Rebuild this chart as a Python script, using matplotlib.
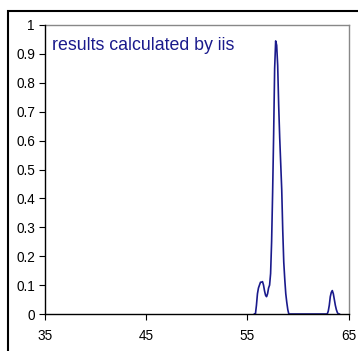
import matplotlib
matplotlib.use('Agg')
import matplotlib.pyplot as plt
from matplotlib.patches import Rectangle

plt.rcParams['font.family'] = ['Liberation Sans', 'DejaVu Sans']

# spectrum (x in degrees, y normalised intensity)
x_vals = [55.7, 55.8, 55.9, 56.0, 56.1, 56.2, 56.3, 56.4, 56.5, 56.6, 56.7,
          56.8, 56.9, 57.0, 57.1, 57.2, 57.3, 57.4, 57.5, 57.6, 57.7, 57.8,
          57.9, 58.0, 58.1, 58.2, 58.3, 58.4, 58.5, 58.6, 58.7, 58.8, 58.9,
          59.0, 59.1, 62.9, 63.0, 63.1, 63.2, 63.3, 63.4, 63.5, 63.6, 63.7,
          63.8, 63.9, 64.0, 64.1]
y_vals = [0.0, 0.0, 0.03, 0.07, 0.09, 0.10, 0.11, 0.11, 0.112, 0.10, 0.08,
          0.065, 0.06, 0.07, 0.09, 0.10, 0.14, 0.25, 0.42, 0.62, 0.85, 0.945,
          0.93, 0.86, 0.72, 0.61, 0.52, 0.43, 0.29, 0.18, 0.12, 0.07, 0.04,
          0.015, 0.0, 0.0, 0.01, 0.03, 0.06, 0.075, 0.081, 0.07, 0.05, 0.03,
          0.015, 0.005, 0.0, 0.0]

x_ticks = [35, 45, 55, 65]
y_ticks = [0, 0.1, 0.2, 0.3, 0.4, 0.5, 0.6, 0.7, 0.8, 0.9, 1]
y_labels = ['0', '0.1', '0.2', '0.3', '0.4', '0.5', '0.6', '0.7', '0.8', '0.9', '1']

navy = '#1a1a8c'

fig = plt.figure(figsize=(3.58, 3.51), dpi=100)
ax = fig.add_axes([45/358, 37/351, 303.5/358, 289/351])

ax.plot(x_vals, y_vals, color=navy, lw=1.2, zorder=3)
ax.set_xlim(35, 65)
ax.set_ylim(0, 1)
ax.set_xticks(x_ticks)
ax.set_xticklabels([str(t) for t in x_ticks])
ax.set_yticks(y_ticks)
ax.set_yticklabels(y_labels)
ax.tick_params(direction='out', length=4, width=0.8, labelsize=9.8, pad=3.2, colors='black')
ax.tick_params(axis='x', pad=7)

for s in ['top', 'right']:
    ax.spines[s].set_color('#888888')
    ax.spines[s].set_linewidth(1.0)
for s in ['left', 'bottom']:
    ax.spines[s].set_color('black')
    ax.spines[s].set_linewidth(1.0)
    ax.spines[s].set_zorder(4)

ax.text(0.023, 0.93, 'results calculated by iis', transform=ax.transAxes,
        color=navy, fontsize=12.8, va='center', ha='left')

# outer chart border, cut off by the image at right and bottom
fig.patches.append(Rectangle((8/358, -0.1), 1.2, 1.1 - 11/351,
                             transform=fig.transFigure, fill=False,
                             edgecolor='black', lw=1.5, clip_on=False))

fig.savefig('out.png', dpi=100)
